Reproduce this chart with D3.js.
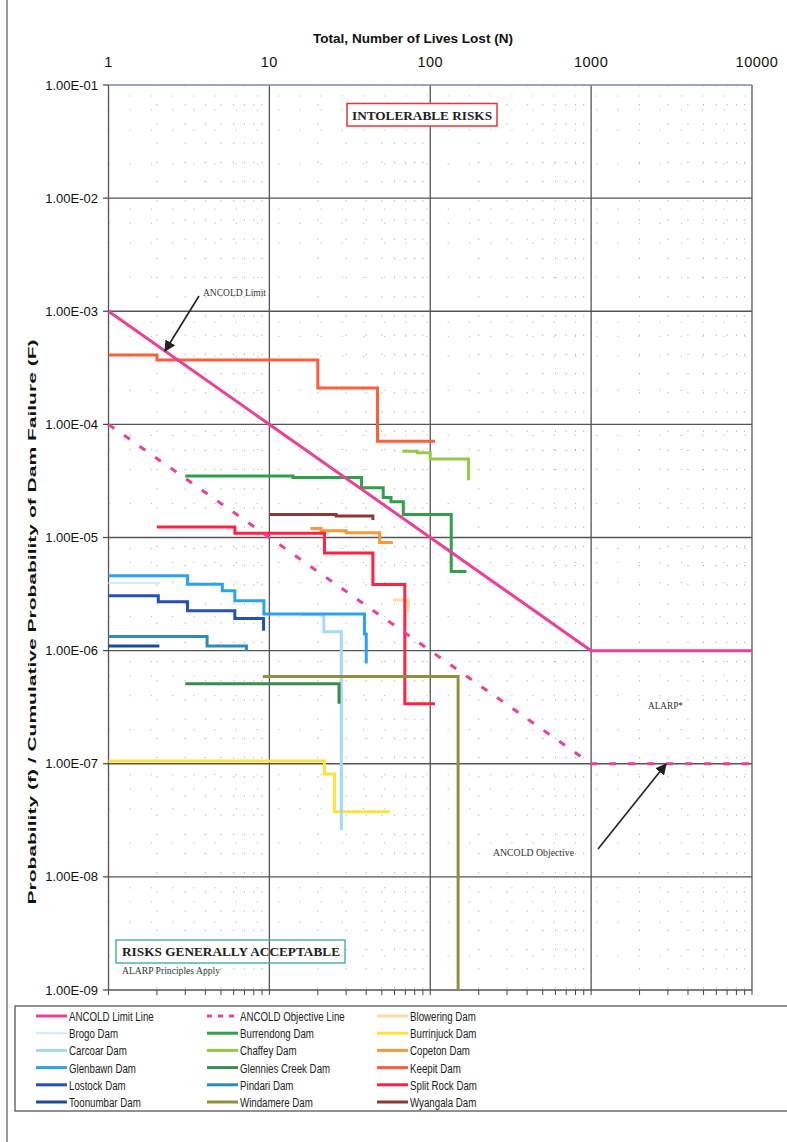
<!DOCTYPE html>
<html><head><meta charset="utf-8">
<script src="https://cdn.jsdelivr.net/npm/d3@7"></script>
<style>body{margin:0;background:#fff}</style>
</head><body><svg id="c" width="787" height="1142"></svg>
<script>
// ---- axis ticks ----
const xTicks = [1, 10, 100, 1000, 10000];
const xTickLabels = ["1", "10", "100", "1000", "10000"];
const yTicks = [1e-1, 1e-2, 1e-3, 1e-4, 1e-5, 1e-6, 1e-7, 1e-8, 1e-9];
const yTickLabels = ["1.00E-01", "1.00E-02", "1.00E-03", "1.00E-04", "1.00E-05", "1.00E-06", "1.00E-07", "1.00E-08", "1.00E-09"];

// ---- series: [N, F] (step-after) ----
const ancoldLimit = [[1, 1e-3], [1000, 1e-6], [10000, 1e-6]];
const ancoldObjective = [[1, 1e-4], [1000, 1e-7], [10000, 1e-7]];
const blowering = [[58.7, 2.8e-6], [73, 2.2e-6]];
const brogo = [[1, 3.97e-6], [2.09, 3.97e-6]];
const burrendong = [[3, 3.5e-5], [14, 3.4e-5], [37.4, 2.75e-5], [51, 2.26e-5], [57, 2.07e-5], [68, 1.6e-5], [135, 5e-6], [168, 5e-6]];
const burrinjuck = [[1, 1.06e-7], [22, 8.1e-8], [25.4, 3.76e-8], [56, 3.76e-8]];
const carcoar = [[15.8, 2.1e-6], [21.8, 1.47e-6], [28, 2.6e-8]];
const chaffey = [[67, 5.8e-5], [83, 5.6e-5], [100, 4.93e-5], [173, 3.2e-5]];
const copeton = [[18, 1.2e-5], [21, 1.15e-5], [30, 1.1e-5], [48.5, 9.05e-6], [58.5, 9.05e-6]];
const glenbawn = [[1, 4.6e-6], [3.1, 3.87e-6], [5.1, 3.38e-6], [6.1, 2.76e-6], [9.25, 2.11e-6], [39, 1.4e-6], [40, 7.7e-7]];
const glenniesCreek = [[3, 5.1e-7], [27.1, 3.4e-7]];
const keepit = [[1, 4.1e-4], [2, 3.7e-4], [20, 2.1e-4], [47, 7.1e-5], [107, 7.1e-5]];
const lostock = [[1, 3.05e-6], [2.04, 2.7e-6], [3.1, 2.25e-6], [6.1, 1.92e-6], [9.2, 1.5e-6]];
const pindari = [[1, 1.33e-6], [4.1, 1.1e-6], [7.2, 1.0e-6]];
const splitRock = [[2, 1.24e-5], [6.1, 1.09e-5], [22, 7.3e-6], [44, 3.85e-6], [69.5, 3.4e-7], [107, 3.4e-7]];
const toonumbar = [[1, 1.1e-6], [2.07, 1.1e-6]];
const windamere = [[9.1, 5.9e-7], [149, 1e-9]];
const wyangala = [[10, 1.6e-5], [26, 1.55e-5], [44, 1.43e-5]];

const seriesNames = ["ANCOLD Limit Line", "ANCOLD Objective Line", "Blowering Dam", "Brogo Dam", "Burrendong Dam", "Burrinjuck Dam", "Carcoar Dam", "Chaffey Dam", "Copeton Dam", "Glenbawn Dam", "Glennies Creek Dam", "Keepit Dam", "Lostock Dam", "Pindari Dam", "Split Rock Dam", "Toonumbar Dam", "Windamere Dam", "Wyangala Dam"];
const seriesData = [ancoldLimit, ancoldObjective, blowering, brogo, burrendong, burrinjuck, carcoar, chaffey, copeton, glenbawn, glenniesCreek, keepit, lostock, pindari, splitRock, toonumbar, windamere, wyangala];
const seriesColors = ["#EC3F96", "#EC3F96", "#FCDCA4", "#D8E8F8", "#30A048", "#FFE23A", "#A2D9F7", "#98C847", "#F89838", "#2AA2EE", "#3C8C4C", "#FF5E3C", "#2550B8", "#2E8CB2", "#FF2242", "#1F4A96", "#8F8F3E", "#8A3838"];

const svg = d3.select("#c");
const SANS = "'Liberation Sans', Arial, sans-serif";
const SERIF = "'Liberation Serif', 'Times New Roman', serif";

const x = d3.scaleLog().domain([1, 10000]).range([108.5, 752]);
const y = d3.scaleLog().domain([1e-9, 1e-1]).range([990, 85]);

// page border
svg.append("line").attr("x1", 7).attr("x2", 7).attr("y1", 0).attr("y2", 1142).attr("stroke", "#555").attr("stroke-width", 1.2);

// minor dotted grid
const minorX = [], minorY = [];
[1, 10, 100, 1000].forEach(d => { for (let k = 2; k <= 9; k++) minorX.push(d * k); });
[1e-9, 1e-8, 1e-7, 1e-6, 1e-5, 1e-4, 1e-3, 1e-2].forEach(d => { [2, 4, 6, 8].forEach(k => minorY.push(d * k)); });
const g = svg.append("g");
g.selectAll(".mx").data(minorX).join("line")
  .attr("x1", d => x(d)).attr("x2", d => x(d)).attr("y1", 85).attr("y2", 990)
  .attr("stroke", "#aaa").attr("stroke-width", 1).attr("stroke-dasharray", "1.2,18");
g.selectAll(".my").data(minorY).join("line")
  .attr("x1", 108.5).attr("x2", 752).attr("y1", d => y(d)).attr("y2", d => y(d))
  .attr("stroke", "#bbb").attr("stroke-width", 1).attr("stroke-dasharray", "1.2,20");

// major grid
g.selectAll(".gx").data(xTicks).join("line")
  .attr("x1", d => x(d)).attr("x2", d => x(d)).attr("y1", 85).attr("y2", 990)
  .attr("stroke", "#555").attr("stroke-width", 1.3);
g.selectAll(".gy").data(yTicks).join("line")
  .attr("x1", 108.5).attr("x2", 752).attr("y1", d => y(d)).attr("y2", d => y(d))
  .attr("stroke", d => d === 1e-1 ? "#7d88a8" : "#555").attr("stroke-width", 1.3);

// left axis ticks
g.selectAll(".ty").data(yTicks).join("line")
  .attr("x1", 103).attr("x2", 108.5).attr("y1", d => y(d)).attr("y2", d => y(d))
  .attr("stroke", "#444").attr("stroke-width", 1.2);
// bottom axis ticks
g.selectAll(".tb").data(minorX.concat(xTicks)).join("line")
  .attr("x1", d => x(d)).attr("x2", d => x(d)).attr("y1", 990).attr("y2", 995)
  .attr("stroke", "#444").attr("stroke-width", 1);

// tick labels
svg.selectAll(".xl").data(xTicks).join("text")
  .attr("x", d => x(d) + (d === 10000 ? 5 : 0)).attr("y", 67)
  .attr("text-anchor", "middle").attr("font-family", SANS).attr("font-size", 14.5)
  .attr("letter-spacing", 0.5).attr("fill", "#111")
  .text((d, i) => xTickLabels[i]);
svg.selectAll(".yl").data(yTicks).join("text")
  .attr("x", 98).attr("y", d => y(d) + 4.5)
  .attr("text-anchor", "end").attr("font-family", SANS).attr("font-size", 13).attr("fill", "#111")
  .text((d, i) => yTickLabels[i]);

// axis titles
svg.append("text").attr("x", 313).attr("y", 43).attr("font-family", SANS).attr("font-weight", "bold")
  .attr("font-size", 12.5).attr("textLength", 200).attr("lengthAdjust", "spacingAndGlyphs").attr("fill", "#111")
  .text("Total, Number of Lives Lost  (N)");
svg.append("text").attr("transform", "translate(36,622) rotate(-90)").attr("text-anchor", "middle")
  .attr("font-family", SANS).attr("font-weight", "bold").attr("font-size", 11.5).attr("fill", "#111")
  .attr("textLength", 565).attr("lengthAdjust", "spacingAndGlyphs")
  .text("Probability (f) / Cumulative Probability of Dam Failure (F)");

// series
const line = d3.line().x(d => x(d[0])).y(d => y(d[1]));
const stepLine = d3.line().x(d => x(d[0])).y(d => y(d[1])).curve(d3.curveStepAfter);
const lines = svg.append("g");
const order = [2, 3, 4, 5, 6, 7, 8, 9, 10, 11, 12, 13, 14, 15, 16, 17, 1, 0];
order.forEach(i => {
  const isAnc = i < 2;
  lines.append("path")
    .attr("d", isAnc ? line(seriesData[i]) : stepLine(seriesData[i]))
    .attr("fill", "none").attr("stroke", seriesColors[i])
    .attr("stroke-width", i === 3 ? 2 : 3)
    .attr("stroke-dasharray", i === 1 ? "7,12" : null)
    .attr("stroke-linejoin", "miter");
});

// annotations
const arrowDefs = svg.append("defs");
arrowDefs.append("marker").attr("id", "ah").attr("viewBox", "0 0 10 10").attr("refX", 9).attr("refY", 5)
  .attr("markerWidth", 7).attr("markerHeight", 7).attr("orient", "auto")
  .append("path").attr("d", "M0,0 L10,5 L0,10 z").attr("fill", "#222");

svg.append("rect").attr("x", 347).attr("y", 103.5).attr("width", 150).attr("height", 22.5)
  .attr("fill", "#fff").attr("stroke", "#E8333F").attr("stroke-width", 1.5);
svg.append("text").attr("x", 352).attr("y", 120).attr("font-family", SERIF).attr("font-weight", "bold")
  .attr("font-size", 13.5).attr("textLength", 140).attr("lengthAdjust", "spacingAndGlyphs").attr("fill", "#222")
  .text("INTOLERABLE RISKS");

svg.append("rect").attr("x", 116).attr("y", 940).attr("width", 229).attr("height", 23)
  .attr("fill", "none").attr("stroke", "#52B3A3").attr("stroke-width", 1.5);
svg.append("text").attr("x", 122).attr("y", 956).attr("font-family", SERIF).attr("font-weight", "bold")
  .attr("font-size", 13.5).attr("textLength", 218).attr("lengthAdjust", "spacingAndGlyphs").attr("fill", "#222")
  .text("RISKS GENERALLY ACCEPTABLE");
svg.append("text").attr("x", 122).attr("y", 974).attr("font-family", SERIF)
  .attr("font-size", 9.5).attr("textLength", 98).attr("lengthAdjust", "spacingAndGlyphs").attr("fill", "#333")
  .text("ALARP Principles Apply");

svg.append("text").attr("x", 203).attr("y", 296).attr("font-family", SERIF).attr("font-size", 9.5)
  .attr("textLength", 63).attr("lengthAdjust", "spacingAndGlyphs").attr("fill", "#333").text("ANCOLD Limit");
svg.append("line").attr("x1", 199).attr("y1", 296).attr("x2", 165).attr("y2", 351)
  .attr("stroke", "#222").attr("stroke-width", 1.6).attr("marker-end", "url(#ah)");

svg.append("text").attr("x", 648).attr("y", 709).attr("font-family", SERIF).attr("font-size", 9.5)
  .attr("textLength", 35).attr("lengthAdjust", "spacingAndGlyphs").attr("fill", "#333").text("ALARP*");

svg.append("text").attr("x", 493).attr("y", 856).attr("font-family", SERIF).attr("font-size", 9.5)
  .attr("textLength", 81).attr("lengthAdjust", "spacingAndGlyphs").attr("fill", "#333").text("ANCOLD Objective");
svg.append("line").attr("x1", 598).attr("y1", 849).attr("x2", 666).attr("y2", 764)
  .attr("stroke", "#222").attr("stroke-width", 1.6).attr("marker-end", "url(#ah)");

// legend
svg.append("rect").attr("x", 15).attr("y", 1006).attr("width", 790).attr("height", 105)
  .attr("fill", "none").attr("stroke", "#555").attr("stroke-width", 1.3);
const colX = [36, 207, 377];
const leg = svg.append("g");
seriesNames.forEach((name, i) => {
  const c = i % 3, r = Math.floor(i / 3);
  const ly = 1016 + r * 17.2;
  leg.append("line").attr("x1", colX[c]).attr("x2", colX[c] + 31).attr("y1", ly).attr("y2", ly)
    .attr("stroke", seriesColors[i]).attr("stroke-width", i === 3 ? 2 : 3)
    .attr("stroke-dasharray", i === 1 ? "5,6" : null);
  leg.append("text").attr("transform", `translate(${colX[c] + 33},${ly + 5}) scale(0.72,1)`)
    .attr("font-family", SANS).attr("font-size", 13.5).attr("fill", "#222").text(name);
});
</script></body></html>
